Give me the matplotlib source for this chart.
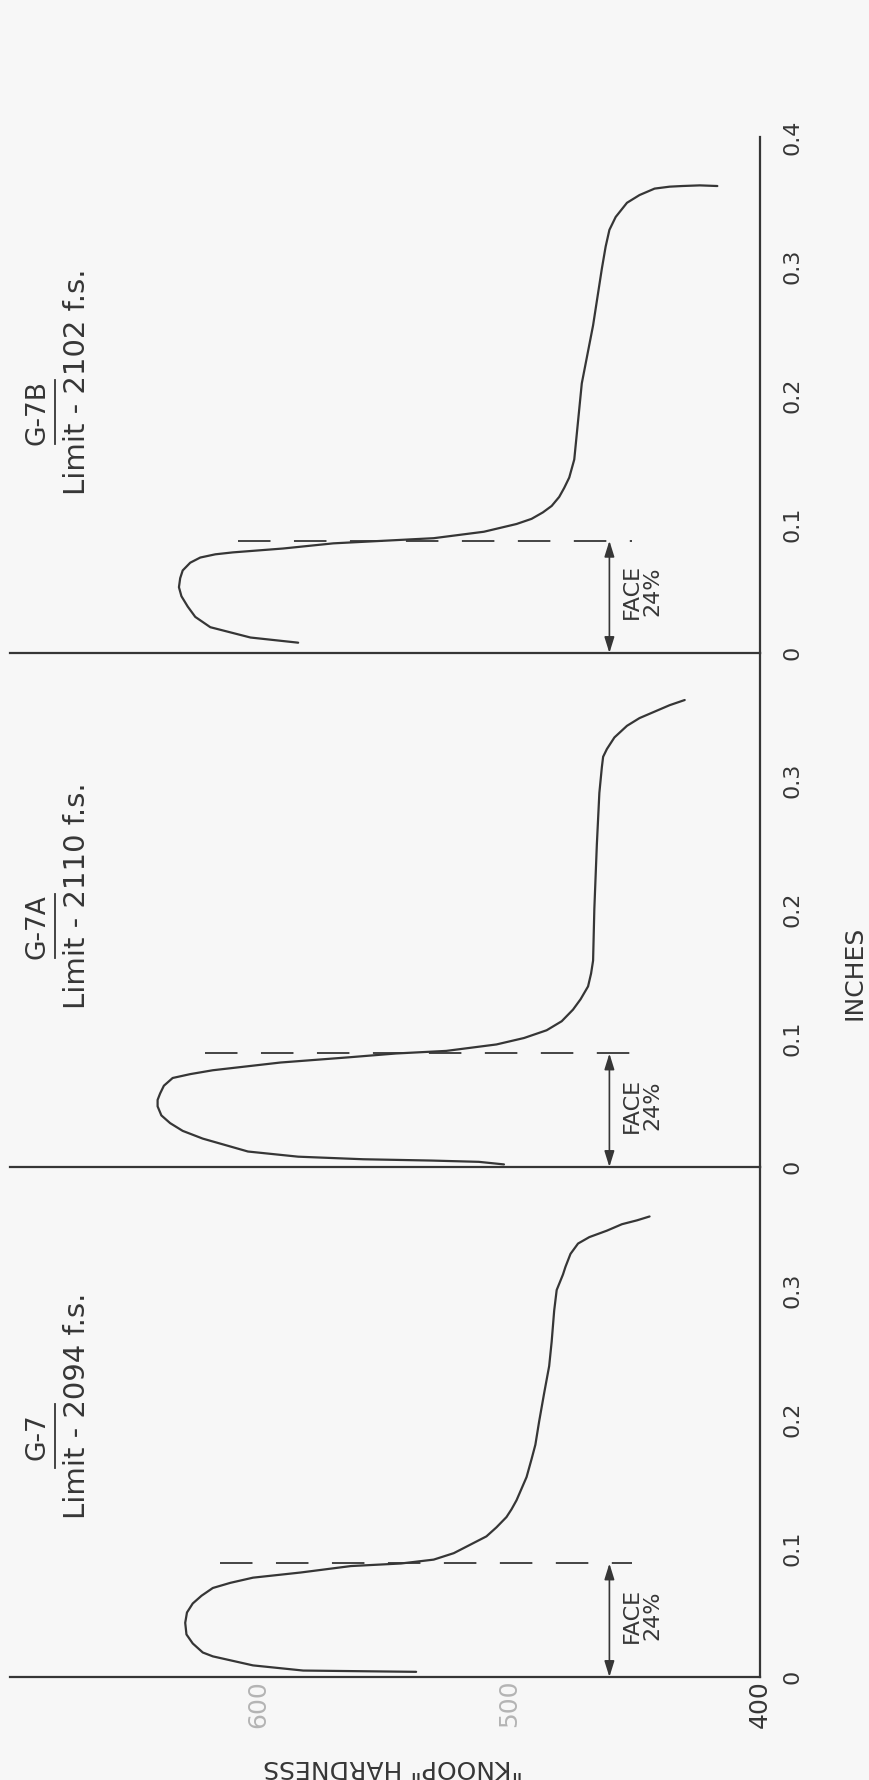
import matplotlib.pyplot as plt

# figure is the scanned plot turned on its side: hardness runs right->left,
# inches run bottom->top, every text is rotated
W, H = 869, 1780
PX_PER_IN = 1290.0   # vertical scale
X_AXIS_PX = 760      # where the 400 line sits
LEFT_PX = 10
PX_PER_HV = 2.51

ink = "#363636"
faint = "#b4b4b4"

panel_names = ["G-7", "G-7A", "G-7B"]
limit_labels = ["Limit - 2094 f.s.", "Limit - 2110 f.s.", "Limit - 2102 f.s."]
face_depth = [0.088, 0.088, 0.087]     # inches
face_dash_start = [615, 621, 608]      # hardness where the dashed line begins
face_label = "FACE\n24%"

inch_ticks = [[0, 0.1, 0.2, 0.3], [0, 0.1, 0.2, 0.3], [0, 0.1, 0.2, 0.3, 0.4]]
inch_ticklabels = [["0", "0.1", "0.2", "0.3"], ["0", "0.1", "0.2", "0.3"],
                   ["0", "0.1", "0.2", "0.3", "0.4"]]
hardness_ticks = [400, 500, 600]

# curves (inches, knoop hardness)
g7_in = [0.004, 0.005, 0.009, 0.016, 0.019, 0.026, 0.033, 0.042, 0.050, 0.057,
         0.063, 0.069, 0.073, 0.077, 0.081, 0.086, 0.088, 0.091, 0.096, 0.100,
         0.109, 0.116, 0.124, 0.130, 0.137, 0.155, 0.169, 0.180, 0.198, 0.220,
         0.241, 0.260, 0.284, 0.300, 0.312, 0.318, 0.328, 0.336, 0.341, 0.346,
         0.351, 0.354, 0.357]
g7_hv = [537, 582, 602, 618, 622, 626, 628.5, 629, 628.3, 626,
         622.5, 618, 611, 602, 583, 563, 543, 530, 522, 518,
         509, 505, 501, 499, 497, 493, 491, 489.5, 488, 486,
         484, 483, 482, 481, 478.5, 477.5, 475.5, 472.5, 468, 461,
         455, 449, 444]

g7a_in = [0.002, 0.004, 0.005, 0.006, 0.008, 0.012, 0.022, 0.028, 0.034, 0.040,
          0.047, 0.052, 0.057, 0.063, 0.069, 0.072, 0.075, 0.081, 0.085, 0.088,
          0.090, 0.095, 0.100, 0.106, 0.113, 0.122, 0.130, 0.140, 0.150, 0.160,
          0.200, 0.250, 0.290, 0.310, 0.318, 0.324, 0.333, 0.342, 0.348, 0.353,
          0.358, 0.362]
g7a_hv = [502, 512, 531, 558, 584, 604, 622, 630, 635, 638.5,
          640, 640, 639, 637.5, 634, 627, 618, 591, 564, 545,
          525, 505, 494, 485, 479, 474.5, 471.5, 468.5, 467.3, 466.5,
          466, 465, 464, 463, 462.5, 461, 458, 453, 448, 442,
          436, 430]

g7b_in = [0.008, 0.012, 0.020, 0.028, 0.036, 0.044, 0.051, 0.058, 0.064, 0.070,
          0.074, 0.0765, 0.078, 0.081, 0.085, 0.087, 0.089, 0.094, 0.100, 0.104,
          0.109, 0.114, 0.121, 0.128, 0.136, 0.150, 0.209, 0.254, 0.298, 0.315,
          0.328, 0.338, 0.349, 0.355, 0.360, 0.3615, 0.362, 0.3625, 0.362]
g7b_hv = [584, 603, 619, 625, 628, 630.5, 631.5, 631, 630, 627,
          623, 617, 610, 590, 570, 550, 530, 510, 497, 491,
          486.5, 483, 480, 478, 476, 474, 471, 466.5, 463, 461.5,
          460, 457.5, 453, 448, 442, 436, 431, 424, 417]

curves = [(g7_in, g7_hv), (g7a_in, g7a_hv), (g7b_in, g7b_hv)]

# pixel rows of each panel's zero line and top
zero_px = [1677, 1167, 653]
top_px = [1167, 653, 137]

fig = plt.figure(figsize=(W / 100, H / 100), dpi=100, facecolor="#f7f7f7")

for i, name in enumerate(panel_names):
    z, t = zero_px[i], top_px[i]
    ax = fig.add_axes([LEFT_PX / W, 1 - z / H, (X_AXIS_PX - LEFT_PX) / W, (z - t) / H])
    ax.patch.set_alpha(0)
    ax.set_xlim(400 + (X_AXIS_PX - LEFT_PX) / PX_PER_HV, 400)
    ax.set_ylim(0, (z - t) / PX_PER_IN)
    for s in ["top", "left"]:
        ax.spines[s].set_visible(False)
    for s in ["right", "bottom"]:
        ax.spines[s].set_color(ink)
        ax.spines[s].set_linewidth(1.6)

    ins, hv = curves[i]
    ax.plot(hv, ins, color=ink, lw=1.6, solid_joinstyle="round", solid_capstyle="round")

    # face depth marker
    d = face_depth[i]
    ax.plot([face_dash_start[i], 451], [d, d], color=ink, lw=1.3, dashes=(18, 13))
    ax.annotate("", xy=(460, d), xytext=(460, 0),
                arrowprops=dict(arrowstyle="<|-|>,head_length=0.8,head_width=0.25",
                                color=ink, lw=1.2, shrinkA=0, shrinkB=0, mutation_scale=12))
    ax.text(447, 0.048, face_label, rotation=90, ha="center", va="center",
            fontsize=16, color=ink, linespacing=1.05)

    # panel heading
    ax.text(672, 0.21, limit_labels[i], rotation=90, ha="center", va="center",
            fontsize=21, color=ink)
    ax.text(688, 0.186, name, rotation=90, ha="center", va="center",
            fontsize=19, color=ink)
    ax.plot([681, 681], [0.162, 0.212], color=ink, lw=1.3)

    ax.yaxis.tick_right()
    ax.set_yticks(inch_ticks[i])
    ax.set_yticklabels(inch_ticklabels[i], rotation=90, va="center")
    ax.tick_params(axis="y", length=0, pad=16, labelsize=16, labelcolor=ink)

    if i == 0:
        ax.set_xticks(hardness_ticks)
        ax.set_xticklabels([str(v) for v in hardness_ticks], rotation=90)
        ax.tick_params(axis="x", length=0, pad=2, labelsize=18)
        for lbl, col in zip(ax.get_xticklabels(), [ink, faint, faint]):
            lbl.set_color(col)
    else:
        ax.set_xticks([])

fig.text(855 / W, 1 - 973 / H, "INCHES", rotation=90, ha="center", va="center",
         fontsize=18, color=ink)
fig.text(393 / W, 1 - 1767 / H, '"KNOOP" HARDNESS', rotation=180, ha="center",
         va="center", fontsize=18, color=ink)

plt.savefig("out.png", dpi=100, facecolor=fig.get_facecolor())
